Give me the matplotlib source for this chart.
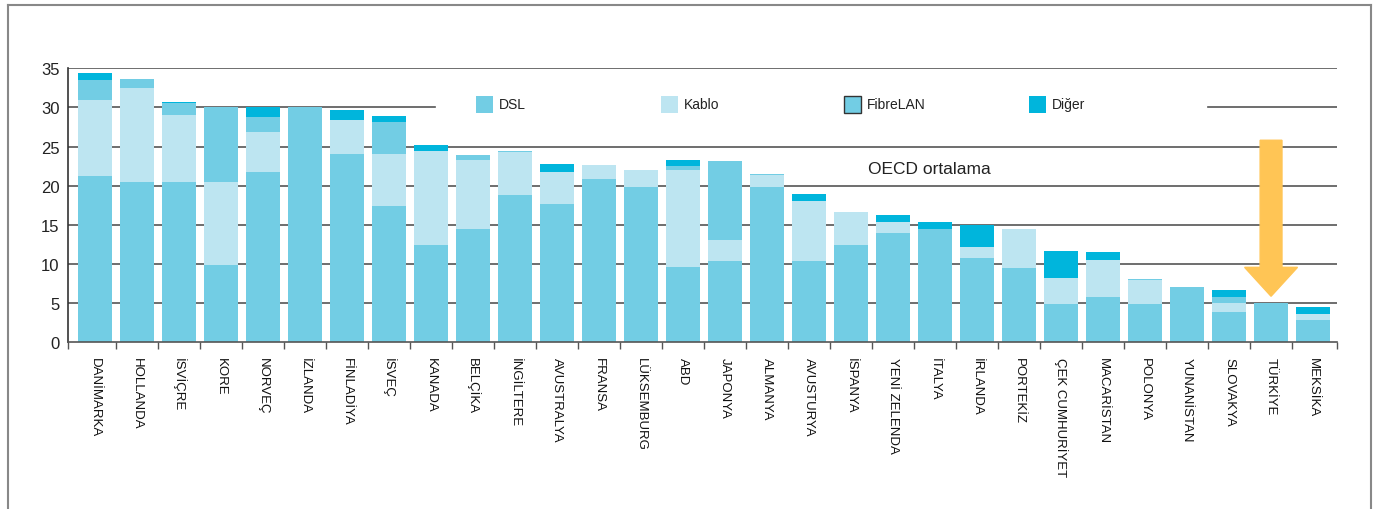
import numpy as np
import matplotlib
matplotlib.use('Agg')
import matplotlib.pyplot as plt
from matplotlib.patches import FancyArrow, Rectangle
from matplotlib.lines import Line2D

plt.rcParams['font.family'] = ['Liberation Sans', 'DejaVu Sans']

countries = ['DANİMARKA', 'HOLLANDA', 'İSVİÇRE', 'KORE', 'NORVEÇ', 'İZLANDA',
             'FİNLADİYA', 'İSVEÇ', 'KANADA', 'BELÇİKA', 'İNGİLTERE', 'AVUSTRALYA',
             'FRANSA', 'LÜKSEMBURG', 'ABD', 'JAPONYA', 'ALMANYA', 'AVUSTURYA',
             'İSPANYA', 'YENİ ZELENDA', 'İTALYA', 'İRLANDA', 'PORTEKİZ',
             'ÇEK CUMHURİYET', 'MACARİSTAN', 'POLONYA', 'YUNANİSTAN', 'SLOVAKYA',
             'TÜRKİYE', 'MEKSİKA']

dsl = [21.2, 20.4, 20.4, 9.9, 21.7, 30.0, 24.0, 17.4, 12.4, 14.5, 18.8, 17.7,
       20.9, 19.8, 9.6, 10.3, 19.8, 10.3, 12.4, 14.0, 14.5, 10.7, 9.4, 4.9,
       5.7, 4.8, 7.0, 3.8, 5.0, 2.8]
kablo = [9.7, 12.1, 8.6, 10.5, 5.1, 0.0, 4.4, 6.6, 12.0, 8.8, 5.5, 4.1,
         1.7, 2.2, 12.4, 2.8, 1.5, 7.7, 4.2, 1.3, 0.0, 1.4, 5.1, 3.3,
         4.8, 3.1, 0.0, 1.2, 0.0, 0.8]
fibre = [2.6, 1.1, 1.6, 9.6, 2.0, 0.0, 0.0, 4.1, 0.0, 0.6, 0.1, 0.0,
         0.0, 0.0, 0.5, 10.0, 0.2, 0.0, 0.0, 0.0, 0.0, 0.0, 0.0, 0.0,
         0.0, 0.1, 0.0, 0.8, 0.0, 0.0]
diger = [0.9, 0.0, 0.1, 0.0, 1.2, 0.0, 1.3, 0.8, 0.8, 0.0, 0.0, 0.9,
         0.0, 0.0, 0.8, 0.0, 0.0, 0.9, 0.0, 0.9, 0.9, 2.9, 0.0, 3.5,
         1.0, 0.0, 0.0, 0.9, 0.0, 0.9]

c_dsl = '#72CDE4'
c_kablo = '#BDE5F1'
c_fibre = '#72CDE4'
c_diger = '#00B5DC'

fig = plt.figure(figsize=(13.75, 5.10), dpi=100)
ax = fig.add_axes([68 / 1375, 1 - 343 / 510, (1337 - 68) / 1375, (343 - 69.3) / 510])

x = np.arange(len(countries))
w = 0.81
dsl = np.array(dsl); kablo = np.array(kablo); fibre = np.array(fibre); diger = np.array(diger)

# grid lines (30 line interrupted by legend)
for v in [5, 10, 15, 20, 25, 35]:
    ax.axhline(v, color='#555555', lw=1.2, zorder=0)
ax.plot([-0.643, 8.1], [30, 30], color='#555555', lw=1.2, zorder=0)
ax.plot([26.5, 29.57], [30, 30], color='#555555', lw=1.2, zorder=0)

ax.bar(x, dsl, w, color=c_dsl, zorder=2)
ax.bar(x, kablo, w, bottom=dsl, color=c_kablo, zorder=2)
ax.bar(x, fibre, w, bottom=dsl + kablo, color=c_fibre, zorder=2)
ax.bar(x, diger, w, bottom=dsl + kablo + fibre, color=c_diger, zorder=2)

ax.set_xlim(-0.643, 29.57)
ax.set_ylim(0, 35)
ax.set_yticks(range(0, 36, 5))
ax.tick_params(axis='y', length=0, pad=6, labelsize=12, labelcolor='#222222')
ax.set_xticks(x)
ax.set_xticklabels(countries, rotation=270, fontsize=9.5, ha='center', va='top')
ax.tick_params(axis='x', which='major', length=0, pad=11, labelcolor='#111111')
ax.set_xticks(list(np.arange(len(countries) - 1) + 0.5) + [-0.643, 29.57], minor=True)
ax.tick_params(axis='x', which='minor', length=5, width=1, color='#555555', direction='out')

for s in ['top', 'right']:
    ax.spines[s].set_visible(False)
ax.spines['left'].set_color('#333333')
ax.spines['bottom'].set_color('#555555')
ax.spines['left'].set_linewidth(1.2)
ax.spines['bottom'].set_linewidth(1.2)

# legend row
legend_items = [('DSL', c_dsl, 'none', 476), ('Kablo', c_kablo, 'none', 661),
                ('FibreLAN', c_fibre, '#333333', 844), ('Diğer', c_diger, 'none', 1029)]
for label, col, ec, px in legend_items:
    fig.patches.append(Rectangle((px / 1375, 1 - 114 / 510), 17 / 1375, 17 / 510,
                                 facecolor=col, edgecolor=ec, lw=1,
                                 transform=fig.transFigure, figure=fig))
    fig.text((px + 23) / 1375, 1 - 105.5 / 510, label, fontsize=10, color='#222222',
             va='center', ha='left')

ax.text(18.4, 22.2, 'OECD ortalama', fontsize=12.5, color='#222222', va='center', ha='left')

# arrow pointing to Türkiye
ti = countries.index('TÜRKİYE')
arr = FancyArrow(ti, 25.8, 0, -(25.8 - dsl[ti] - 0.85), width=0.52, head_width=1.26,
                 head_length=3.7, length_includes_head=True, color='#FFC555', zorder=3)
ax.add_patch(arr)

# outer frame
for xs, ys in [([8, 8], [510, 6]), ([8, 1371], [6, 6]), ([1371, 1371], [6, 510])]:
    fig.lines.append(Line2D([xs[0] / 1375, xs[1] / 1375],
                            [1 - ys[0] / 510, 1 - ys[1] / 510],
                            transform=fig.transFigure, color='#888888', lw=1.5))

fig.savefig('out.png', dpi=100)
